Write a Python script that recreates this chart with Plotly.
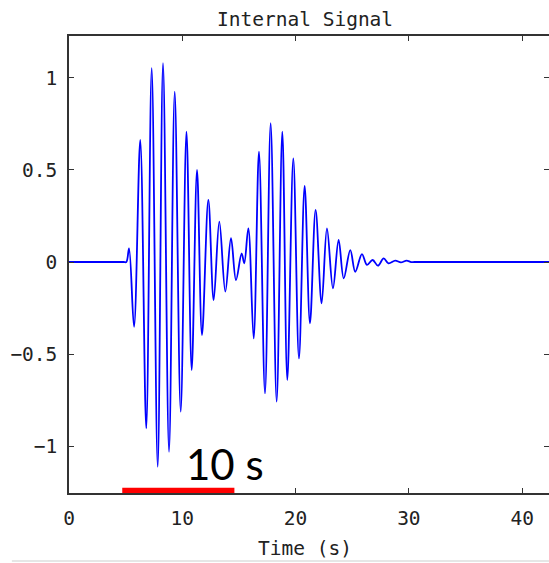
import plotly.graph_objects as go

# ---- data ----
# times (s) of the successive extrema of the signal, with flat segments at both ends
t_points = [0.0, 4.8, 5.06, 5.30, 5.74, 6.29, 6.82, 7.30, 7.83, 8.30, 8.83, 9.33, 9.86,
            10.37, 10.83, 11.30, 11.74, 12.30, 12.77, 13.27, 13.80, 14.30, 14.74, 15.24,
            15.47, 15.83, 16.30, 16.77, 17.30, 17.80, 18.33, 18.83, 19.27, 19.80, 20.30,
            20.80, 21.27, 21.77, 22.30, 22.77, 23.30, 23.80, 24.25, 24.83, 25.27, 25.86,
            26.30, 26.80, 27.27, 27.78, 28.20, 28.80, 29.30, 29.80, 30.20, 30.5, 42.4]
signal = [0.0, 0.0, 0.0, 0.074, -0.352, 0.663, -0.904, 1.053, -1.112, 1.080, -1.031, 0.926,
          -0.813, 0.708, -0.587, 0.500, -0.397, 0.337, -0.207, 0.219, -0.161, 0.129, -0.098,
          0.047, -0.007, 0.183, -0.415, 0.600, -0.714, 0.754, -0.759, 0.708, -0.641, 0.563,
          -0.524, 0.413, -0.333, 0.283, -0.224, 0.183, -0.143, 0.120, -0.089, 0.065, -0.053,
          0.043, -0.016, 0.011, -0.020, 0.020, -0.007, 0.008, -0.002, 0.008, 0.0, 0.0, 0.0]

x_ticks = [0, 10, 20, 30, 40]
x_tick_labels = ["0", "10", "20", "30", "40"]
y_ticks = [-1, -0.5, 0, 0.5, 1]
y_tick_labels = ["\u22121", "\u22120.5", "0", "0.5", "1"]

scale_bar_start = 4.7
scale_bar_end = 14.6
scale_bar_label = "10 s"
title_text = "Internal Signal"
x_title = "Time (s)"

x_range = [0, 42.37]
y_range = [-1.255, 1.228]

mono = "DejaVu Sans Mono"
axis_col = "#333333"
text_col = "#222222"

fig = go.Figure()
fig.add_trace(go.Scatter(
    x=t_points, y=signal, mode="lines",
    line=dict(color="#0000FF", width=1.8, shape="spline", smoothing=1.0),
    hoverinfo="skip", showlegend=False))

# red scale bar sitting on the x axis
fig.add_shape(type="rect", xref="x", yref="y",
              x0=scale_bar_start, x1=scale_bar_end, y0=-1.255, y1=-1.226,
              fillcolor="#FF0000", line=dict(width=0), layer="above")

fig.add_annotation(x=(scale_bar_start + scale_bar_end) / 2 + 4.15, y=-1.10,
                   xref="x", yref="y", text=scale_bar_label, showarrow=False,
                   font=dict(family="Lato", size=42, color="black"),
                   xanchor="center", yanchor="middle")

fig.add_annotation(x=0.4917, y=1.037, xref="paper", yref="paper", text=title_text,
                   showarrow=False, font=dict(family=mono, size=19.5, color=text_col),
                   xanchor="center", yanchor="middle")
fig.add_annotation(x=0.4917, y=-0.1225, xref="paper", yref="paper", text=x_title,
                   showarrow=False, font=dict(family=mono, size=19.5, color=text_col),
                   xanchor="center", yanchor="middle")

# faint rule at the very bottom of the picture
fig.add_shape(type="line", xref="paper", yref="paper",
              x0=-0.119, x1=1.0, y0=-0.1488, y1=-0.1488,
              line=dict(color="#e6e6e6", width=2))

fig.update_xaxes(range=x_range, tickvals=x_ticks, ticktext=x_tick_labels,
                 showgrid=False, zeroline=False, showline=True, linecolor=axis_col,
                 linewidth=1.5, mirror="ticks", ticks="inside", ticklen=5, tickwidth=1.2,
                 tickcolor=axis_col, tickfont=dict(family=mono, size=19.5, color=text_col),
                 ticklabelstandoff=7)
fig.update_yaxes(range=y_range, tickvals=y_ticks, ticktext=y_tick_labels,
                 showgrid=False, zeroline=False, showline=True, linecolor=axis_col,
                 linewidth=1.5, mirror=False, ticks="inside", ticklen=5, tickwidth=1.2,
                 tickcolor=axis_col, tickfont=dict(family=mono, size=19.5, color=text_col),
                 ticklabelstandoff=6)

# right-hand ticks without a visible right border (border lies just outside the picture)
fig.update_layout(yaxis2=dict(range=y_range, tickvals=y_ticks, overlaying="y", side="right",
                              showgrid=False, zeroline=False, showline=False,
                              ticks="inside", ticklen=5, tickwidth=1.2, tickcolor=axis_col,
                              showticklabels=False))
fig.add_trace(go.Scatter(x=[None], y=[None], yaxis="y2", showlegend=False, hoverinfo="skip"))

fig.update_layout(width=549, height=563, margin=dict(l=69, r=0, t=36, b=70),
                  plot_bgcolor="white", paper_bgcolor="white", showlegend=False)

fig.write_html("out.html")
